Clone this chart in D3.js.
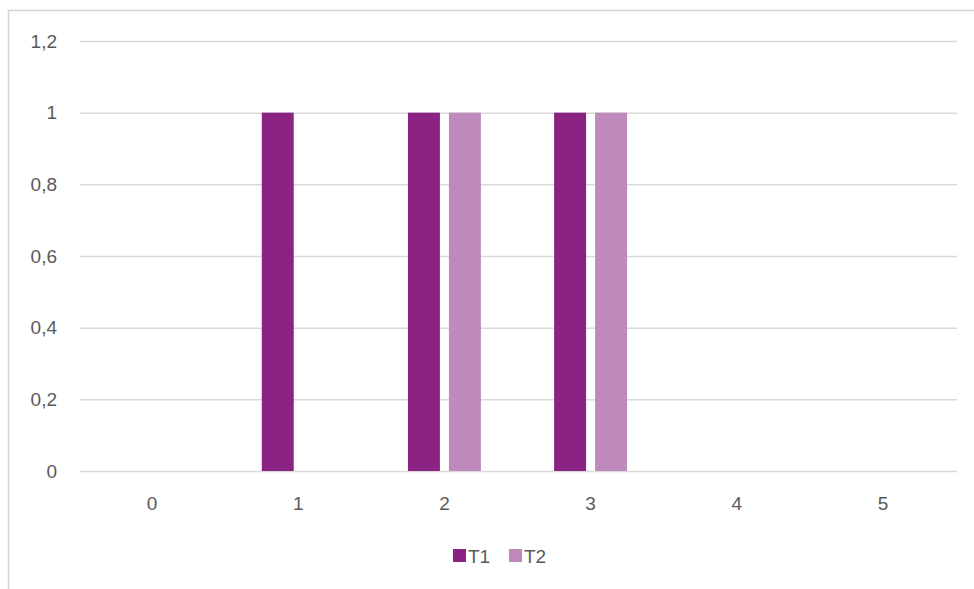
<!DOCTYPE html>
<html>
<head>
<meta charset="utf-8">
<script src="https://cdn.jsdelivr.net/npm/d3@7"></script>
<style>
  html, body { margin: 0; padding: 0; background: #ffffff; }
  svg { display: block; }
  text { font-family: "Liberation Sans", "DejaVu Sans", sans-serif; }
</style>
</head>
<body>
<svg id="chart" width="974" height="589"></svg>
<script>
// Chart data
const categories = ["0", "1", "2", "3", "4", "5"];
const seriesNames = ["T1", "T2"];
const seriesT1 = [0, 1, 1, 1, 0, 0];
const seriesT2 = [0, 0, 1, 1, 0, 0];
const yTicks = [0, 0.2, 0.4, 0.6, 0.8, 1, 1.2];
const colors = { T1: "#8b2382", T2: "#bf8abb" };

const rows = categories.map((c, i) => ({ cat: c, T1: seriesT1[i], T2: seriesT2[i] }));

const svg = d3.select("#chart");

// Outer chart frame
svg.append("rect")
  .attr("x", 8.5).attr("y", 10.5)
  .attr("width", 1000).attr("height", 1000)
  .attr("fill", "#ffffff")
  .attr("stroke", "#d4d4d4").attr("stroke-width", 1.5);

const plot = { left: 80, right: 957, top: 41, bottom: 471 };

const y = d3.scaleLinear().domain([0, 1.2]).range([plot.bottom, plot.top]);
const x0 = d3.scaleBand().domain(categories).range([plot.left - 1, plot.right - 1]).padding(0);
const x1 = d3.scaleBand().domain(seriesNames).range([0, x0.bandwidth()])
  .paddingInner(0.22).paddingOuter(0.893);

const fmt = v => String(v).replace(".", ",");

// Horizontal gridlines
svg.append("g")
  .selectAll("line")
  .data(yTicks)
  .join("line")
  .attr("x1", plot.left).attr("x2", plot.right)
  .attr("y1", d => y(d) + 0.5).attr("y2", d => y(d) + 0.5)
  .attr("stroke", "#d9d9d9").attr("stroke-width", 1.5);

// Y axis labels
const yAxis = d3.axisLeft(y).tickValues(yTicks).tickFormat(fmt).tickSize(0).tickPadding(0);
const gy = svg.append("g").attr("transform", `translate(57,0)`).call(yAxis);
gy.select(".domain").remove();
gy.selectAll("text").attr("fill", "#595959").style("font-size", "19px");

// Bars
svg.append("g")
  .selectAll("g")
  .data(rows)
  .join("g")
  .attr("transform", d => `translate(${x0(d.cat)},0)`)
  .selectAll("rect")
  .data(d => seriesNames.map(s => ({ key: s, value: d[s] })).filter(e => e.value > 0))
  .join("rect")
  .attr("x", d => x1(d.key))
  .attr("width", x1.bandwidth())
  .attr("y", d => y(d.value))
  .attr("height", d => y(0) - y(d.value))
  .attr("fill", d => colors[d.key]);

// X axis labels
const xAxis = d3.axisBottom(x0).tickSize(0).tickPadding(0);
const gx = svg.append("g").attr("transform", `translate(0,${plot.bottom + 25})`).call(xAxis);
gx.select(".domain").remove();
gx.selectAll("text").attr("fill", "#595959").style("font-size", "19px").attr("dy", "0.71em");

// Legend
const legendItems = [
  { key: "T1", x: 453 },
  { key: "T2", x: 509 }
];
const legend = svg.append("g");
legendItems.forEach(item => {
  legend.append("rect")
    .attr("x", item.x).attr("y", 549)
    .attr("width", 13).attr("height", 13)
    .attr("fill", colors[item.key]);
  legend.append("text")
    .attr("x", item.x + 15).attr("y", 563)
    .attr("fill", "#595959")
    .style("font-size", "19px")
    .text(item.key);
});
</script>
</body>
</html>
